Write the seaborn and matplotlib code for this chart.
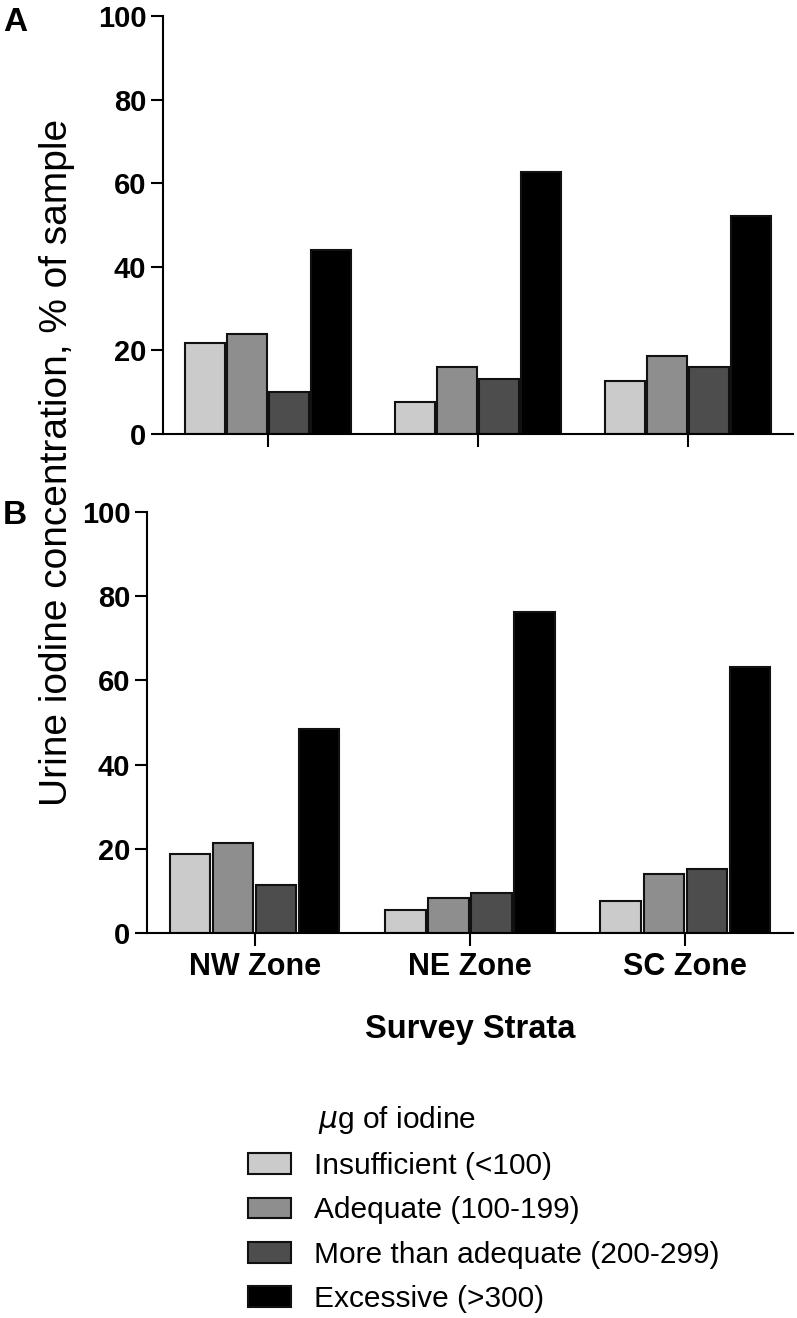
import numpy as np
import pandas as pd
import matplotlib
matplotlib.use("Agg")
import matplotlib.pyplot as plt
import seaborn as sns

# data (% of sample)
zones = ["NW Zone", "NE Zone", "SC Zone"]
levels = ["Insufficient (<100)", "Adequate (100-199)",
          "More than adequate (200-299)", "Excessive (>300)"]
panel_a = [[21.8, 24.0, 10.1, 44.1],
           [7.7, 16.1, 13.2, 62.6],
           [12.8, 18.7, 16.0, 52.2]]
panel_b = [[18.7, 21.3, 11.3, 48.5],
           [5.5, 8.4, 9.5, 76.3],
           [7.5, 14.1, 15.3, 63.2]]
colors = ["#cbcbcb", "#8e8e8e", "#4d4d4d", "#000000"]


def to_long(vals):
    rows = []
    for z, row in zip(zones, vals):
        for lv, v in zip(levels, row):
            rows.append({"zone": z, "level": lv, "pct": v})
    return pd.DataFrame(rows)


sns.set_style("ticks")
plt.rcParams["font.family"] = ["Liberation Sans", "DejaVu Sans"]
plt.rcParams.update({
    "axes.linewidth": 1.5,
    "axes.edgecolor": "black",
    "text.color": "black",
    "axes.labelcolor": "black",
    "xtick.color": "black",
    "ytick.color": "black",
})

fig = plt.figure(figsize=(7.97, 13.18), dpi=100)
ax_a = fig.add_axes([0.2045, 0.6707, 0.7905, 0.3172])
ax_b = fig.add_axes([0.1844, 0.2921, 0.8106, 0.3194])

for ax, vals in [(ax_a, panel_a), (ax_b, panel_b)]:
    sns.barplot(data=to_long(vals), x="zone", y="pct", hue="level",
                palette=colors, hue_order=levels, order=zones,
                width=0.8, gap=0.06, edgecolor="#111111", linewidth=1.5,
                saturation=1, ax=ax, legend=(ax is ax_b))
    ax.set_ylim(0, 100)
    ax.set_xlim(-0.5, 2.5)
    ax.set_yticks([0, 20, 40, 60, 80, 100])
    ax.set_xlabel("")
    ax.set_ylabel("")
    sns.despine(ax=ax)
    ax.tick_params(axis="y", length=9, width=1.5, labelsize=21, pad=3)
    ax.tick_params(axis="x", length=9, width=1.5, labelsize=22, pad=5)
    for t in ax.get_yticklabels() + ax.get_xticklabels():
        t.set_fontweight("bold")

ax_a.set_xticklabels([])

handles, labels = ax_b.get_legend_handles_labels()
ax_b.get_legend().remove()
fig.legend(handles, labels, loc="upper left", bbox_to_anchor=(0.296, 0.135),
           frameon=False, fontsize=21.5, handlelength=1.45, handleheight=0.7,
           labelspacing=0.55, handletextpad=0.75, borderaxespad=0)
fig.text(0.399, 0.150, "$\\mu$g of iodine", fontsize=21.5, ha="left", va="center")

ax_b.set_xlabel("Survey Strata", fontsize=23.5, fontweight="bold", labelpad=23)
fig.text(0.071, 0.649, "Urine iodine concentration, % of sample", fontsize=28,
         rotation=90, ha="center", va="center")
fig.text(0.004, 0.983, "A", fontsize=24, fontweight="bold", ha="left", va="center")
fig.text(0.004, 0.609, "B", fontsize=24, fontweight="bold", ha="left", va="center")

fig.savefig("out.png", dpi=100)
